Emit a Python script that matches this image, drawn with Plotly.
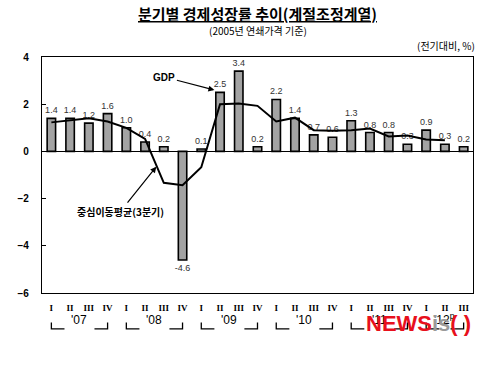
import plotly.graph_objects as go

quarters = ["I", "II", "III", "IV"] * 5 + ["I", "II", "III"]
years = ["'07", "'08", "'09", "'10", "'11", "'12<sup>p</sup>"]
gdp = [1.4, 1.4, 1.2, 1.6, 1.0, 0.4, 0.2, -4.6, 0.1, 2.5, 3.4, 0.2,
       2.2, 1.4, 0.7, 0.6, 1.3, 0.8, 0.8, 0.3, 0.9, 0.3, 0.2]
moving_avg = [1.23, 1.33, 1.40, 1.27, 1.00, 0.53, -1.33, -1.43, -0.67, 2.00, 2.03, 1.93,
              1.27, 1.43, 0.90, 0.87, 0.90, 0.97, 0.63, 0.67, 0.50, 0.47, None]

x = list(range(len(gdp)))
KFONT = "Noto Sans CJK KR, Liberation Sans, Arial"

fig = go.Figure()
fig.add_trace(go.Bar(
    x=x, y=gdp, width=0.45,
    marker=dict(color="#a3a3a3", line=dict(color="black", width=1.6)),
    text=[f"{v:.1f}" for v in gdp], textposition="outside", constraintext="none",
    textfont=dict(family="Liberation Sans, Arial", size=9, color="#333333"),
    cliponaxis=False, showlegend=False, hoverinfo="skip",
))
fig.add_trace(go.Scatter(
    x=x, y=moving_avg, mode="lines",
    line=dict(color="black", width=2), showlegend=False, hoverinfo="skip",
))

shapes = []
annotations = []
spans = [(0, 3), (4, 7), (8, 11), (12, 15), (16, 19), (20, 22)]
ytop, ybot = -0.125, -0.152
for (a, b), label in zip(spans, years):
    shapes.append(dict(type="path", xref="x", yref="paper",
                       path=f"M {a},{ytop} L {a},{ybot} L {a+0.7},{ybot}",
                       line=dict(color="black", width=1.3)))
    shapes.append(dict(type="path", xref="x", yref="paper",
                       path=f"M {b-0.7},{ybot} L {b},{ybot} L {b},{ytop}",
                       line=dict(color="black", width=1.3)))
    annotations.append(dict(x=(a + b) / 2, y=-0.153, xref="x", yref="paper",
                            text=label, showarrow=False,
                            font=dict(family="Liberation Sans, Arial", size=12, color="black")))

annotations += [
    dict(x=0.5, y=1.0, xref="paper", yref="paper", yanchor="bottom", yshift=31,
         text="<b><u>분기별 경제성장률 추이(계절조정계열)</u></b>", showarrow=False,
         font=dict(family=KFONT, size=15, color="black")),
    dict(x=0.5, y=1.0, xref="paper", yref="paper", yanchor="bottom", yshift=17,
         text="(2005년 연쇄가격 기준)", showarrow=False,
         font=dict(family=KFONT, size=10, color="black")),
    dict(x=1.0, y=1.0, xref="paper", yref="paper", xanchor="right", yanchor="bottom",
         xshift=4, yshift=2,
         text="(전기대비, %)", showarrow=False,
         font=dict(family=KFONT, size=10, color="black")),
    dict(x=8.7, y=2.6, xref="x", yref="y", text="<b>GDP</b>",
         showarrow=True, arrowhead=2, arrowsize=1, arrowwidth=1.2, arrowcolor="black",
         ax=-50, ay=-13, font=dict(family="Liberation Sans, Arial", size=10, color="black")),
    dict(x=5.6, y=-0.65, xref="x", yref="y", text="<b>중심이동평균(3분기)</b>",
         showarrow=True, arrowhead=2, arrowsize=1, arrowwidth=1.2, arrowcolor="black",
         ax=-36, ay=45, font=dict(family=KFONT, size=10, color="black")),
    dict(x=1.0, y=-0.13, xref="paper", yref="paper", xanchor="right", yanchor="middle",
         text="<b><span style='color:#e8101c'>NEWS</span><span style='color:#9a9a9a'>is</span>"
              "<span style='color:#e8101c'>( )</span></b>",
         showarrow=False,
         font=dict(family="Liberation Sans Narrow, Liberation Sans, Arial", size=22)),
]

fig.update_layout(
    width=500, height=368,
    margin=dict(l=42, r=27, t=57, b=75),
    paper_bgcolor="white", plot_bgcolor="white",
    hovermode=False,
    xaxis=dict(range=[-0.5, 22.5], tickmode="array", tickvals=x, ticktext=quarters,
               showgrid=False, zeroline=False, showline=True, mirror=True,
               linecolor="black", linewidth=1.3, ticks="", ticklabelstandoff=6,
               tickfont=dict(family="Liberation Serif, serif", size=9, color="black",
                             weight="bold")),
    yaxis=dict(range=[-6, 4], tickvals=[-6, -4, -2, 0, 2, 4],
               showgrid=False, zeroline=True, zerolinecolor="black", zerolinewidth=1.3,
               showline=True, mirror=True, linecolor="black", linewidth=1.3,
               ticks="inside", ticklen=4, tickcolor="black", ticklabelstandoff=10,
               tickfont=dict(family="Liberation Sans, Arial", size=10, color="black",
                             weight="bold"),
               tickformat="d"),
    shapes=shapes, annotations=annotations,
)

fig.write_html("out.html", config={"displayModeBar": False},
               post_script="document.body.style.margin='0';document.body.style.padding='0';")
